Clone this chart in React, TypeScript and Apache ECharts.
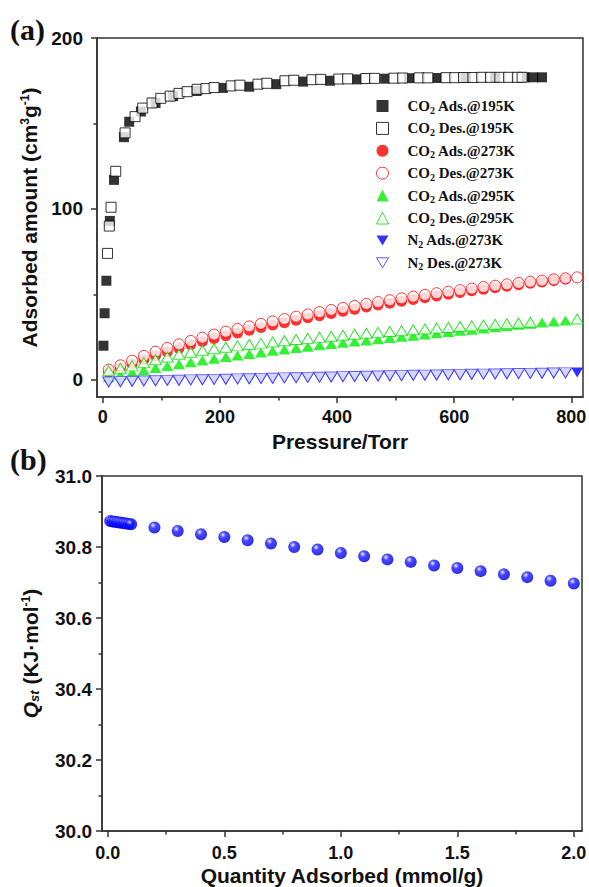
import React, { useEffect, useRef } from "react";
import * as echarts from "echarts";

const SANS = "'Liberation Sans', Arial, sans-serif";
const SERIF = "'Liberation Serif', 'Times New Roman', serif";

// ---------- Panel (a): isotherms ----------
const pAds195 = [1, 3, 6, 12, 19, 36, 45, 65, 90, 120, 160, 205, 250, 296, 342, 388, 434, 482, 523, 571, 620, 670, 720, 735, 750];
const ads195 = [20, 39, 58, 93, 117, 142, 151, 157, 162, 166, 169, 170.8, 171.5, 173, 174.5, 175, 175.8, 176.2, 176.5, 176.6, 176.8, 176.9, 177, 177, 177];

const pDes195 = [8, 11, 14, 22, 38, 55, 68, 84, 99, 115, 130, 144, 161, 176, 190, 219, 234, 265, 280, 311, 326, 357, 372, 403, 418, 449, 464, 497, 512, 540, 555, 586, 601, 616, 632, 647, 662, 678, 693, 708, 716];
const des195 = [74, 90, 101, 122, 144.5, 154, 159, 162, 164.7, 166, 167.6, 168.6, 170, 170.4, 171, 172, 172.4, 173, 173.5, 175, 175.3, 175.6, 175.8, 176, 176.1, 176.3, 176.4, 176.5, 176.6, 176.7, 176.7, 176.8, 176.8, 176.9, 176.9, 177, 177, 177, 177, 177, 177];

const pAds273 = [10, 30, 50, 70, 90, 110, 130, 150, 170, 190, 210, 230, 250, 270, 290, 310, 330, 350, 370, 390, 410, 430, 450, 470, 490, 510, 530, 550, 570, 590, 610, 630, 650, 670, 690, 710, 730, 750, 770, 790];
const ads273 = [4.5, 6.8, 9.3, 11.8, 14.2, 16.4, 18.5, 20.5, 22.4, 24.2, 25.9, 27.5, 29.1, 30.6, 32.1, 33.5, 34.9, 36.3, 37.6, 38.9, 40.2, 41.4, 42.6, 43.8, 44.9, 46, 47.1, 48.1, 49.1, 50.1, 51.1, 52.1, 53, 53.9, 54.8, 55.7, 56.5, 57.3, 58.1, 59];

const pDes273 = [10, 30, 50, 70, 90, 110, 130, 150, 170, 190, 210, 230, 250, 270, 290, 310, 330, 350, 370, 390, 410, 430, 450, 470, 490, 510, 530, 550, 570, 590, 610, 630, 650, 670, 690, 710, 730, 750, 770, 790, 810];
const des273 = [6, 8.5, 11.2, 14, 16.5, 18.7, 20.8, 22.8, 24.7, 26.5, 28.2, 29.8, 31.3, 32.8, 34.2, 35.6, 37, 38.3, 39.6, 40.9, 42.1, 43.3, 44.4, 45.5, 46.6, 47.7, 48.7, 49.7, 50.7, 51.6, 52.5, 53.4, 54.3, 55.1, 55.9, 56.7, 57.4, 58.1, 58.8, 59.4, 60];

const pAds295 = [10, 30, 50, 70, 90, 110, 130, 150, 170, 190, 210, 230, 250, 270, 290, 310, 330, 350, 370, 390, 410, 430, 450, 470, 490, 510, 530, 550, 570, 590, 610, 630, 650, 670, 690, 710, 730, 750, 770, 790];
const ads295 = [1.5, 3, 4.4, 5.7, 6.9, 8.1, 9.2, 10.3, 11.4, 12.4, 13.4, 14.3, 15.2, 16.1, 17, 17.8, 18.6, 19.4, 20.2, 21, 21.7, 22.4, 23.1, 23.8, 24.5, 25.2, 25.9, 26.6, 27.3, 28, 28.7, 29.4, 30.1, 30.8, 31.5, 32.2, 32.9, 33.6, 34.2, 34.8];

const pDes295 = [10, 30, 50, 70, 90, 110, 130, 150, 170, 190, 210, 230, 250, 270, 290, 310, 330, 350, 370, 390, 410, 430, 450, 470, 490, 510, 530, 550, 570, 590, 610, 630, 650, 670, 690, 710, 730, 810];
const des295 = [5.3, 6.6, 8.2, 10, 11.8, 13.4, 15, 16.2, 17.3, 18.2, 19.1, 19.9, 20.7, 21.5, 22.2, 22.9, 23.6, 24.3, 24.9, 25.5, 26.1, 26.7, 27.3, 27.8, 28.3, 28.8, 29.3, 29.8, 30.3, 30.7, 31.2, 31.6, 32.1, 32.5, 32.9, 33.3, 33.7, 35.6];

const pAdsN2 = [10, 30, 50, 70, 90, 110, 130, 150, 170, 190, 210, 230, 250, 270, 290, 310, 330, 350, 370, 390, 410, 430, 450, 470, 490, 510, 530, 550, 570, 590, 610, 630, 650, 670, 690, 710, 730, 750, 770, 790, 810];
const adsN2 = [-1.5, -1.5, -1.2, -1, -0.9, -0.7, -0.6, -0.4, -0.3, -0.1, 0, 0.2, 0.3, 0.5, 0.6, 0.8, 0.9, 1.1, 1.2, 1.3, 1.5, 1.6, 1.7, 1.9, 2, 2.1, 2.3, 2.4, 2.5, 2.6, 2.7, 2.9, 3, 3.1, 3.2, 3.3, 3.4, 3.5, 3.6, 3.7, 4.3];

const pDesN2 = [10, 30, 50, 70, 90, 110, 130, 150, 170, 190, 210, 230, 250, 270, 290, 310, 330, 350, 370, 390, 410, 430, 450, 470, 490, 510, 530, 550, 570, 590, 610, 630, 650, 670, 690, 710, 730, 750, 770, 790];
const desN2 = [-1.2, -1, -0.8, -0.6, -0.5, -0.3, -0.2, 0, 0.1, 0.3, 0.4, 0.6, 0.7, 0.9, 1, 1.2, 1.3, 1.5, 1.6, 1.7, 1.9, 2, 2.1, 2.3, 2.4, 2.5, 2.7, 2.8, 2.9, 3, 3.1, 3.3, 3.4, 3.5, 3.6, 3.7, 3.8, 3.9, 4, 4.1];

const xTicksA = [0, 200, 400, 600, 800];
const xMinorA = [100, 300, 500, 700];
const yTicksA = [0, 100, 200];
const yMinorA = [50, 150];

// ---------- Panel (b): Qst ----------
const qAdsorbed = [0.01, 0.02, 0.03, 0.04, 0.05, 0.06, 0.07, 0.08, 0.09, 0.1, 0.2, 0.3, 0.4, 0.5, 0.6, 0.7, 0.8, 0.9, 1.0, 1.1, 1.2, 1.3, 1.4, 1.5, 1.6, 1.7, 1.8, 1.9, 2.0];
const qst = [30.873, 30.872, 30.871, 30.87, 30.869, 30.868, 30.867, 30.866, 30.865, 30.864, 30.855, 30.845, 30.836, 30.828, 30.819, 30.81, 30.8, 30.793, 30.783, 30.774, 30.765, 30.758, 30.748, 30.741, 30.732, 30.723, 30.715, 30.705, 30.697];

const xTicksB = [0, 0.5, 1, 1.5, 2];
const xMinorB = [0.25, 0.75, 1.25, 1.75];
const yTicksB = [30, 30.2, 30.4, 30.6, 30.8, 31];
const yMinorB = [30.1, 30.3, 30.5, 30.7, 30.9];

const legendRich: Record<string, string> = {
  "CO2 Ads.@195K": "{f|CO}{s|2}{t| Ads.@195K}",
  "CO2 Des.@195K": "{f|CO}{s|2}{t| Des.@195K}",
  "CO2 Ads.@273K": "{f|CO}{s|2}{t| Ads.@273K}",
  "CO2 Des.@273K": "{f|CO}{s|2}{t| Des.@273K}",
  "CO2 Ads.@295K": "{f|CO}{s|2}{t| Ads.@295K}",
  "CO2 Des.@295K": "{f|CO}{s|2}{t| Des.@295K}",
  "N2 Ads.@273K": "{f|N}{s|2}{t| Ads.@273K}",
  "N2 Des.@273K": "{f|N}{s|2}{t| Des.@273K}",
};

const zip = (xs: number[], ys: number[]) => xs.map((x, i) => [x, ys[i]]);

const AX = "#333";
const lineStyle = { color: AX, width: 1.5 };
const DOWN_TRI = "path://M0,0L12,0L6,10Z";

function mainAxis(gridIndex: number, min: number, max: number, ticks: number[], extra: any) {
  return {
    type: "value",
    gridIndex,
    min,
    max,
    axisLine: { show: true, onZero: false, lineStyle },
    axisTick: { show: true, customValues: ticks, length: 6, lineStyle },
    splitLine: { show: false },
    ...extra,
  };
}

function minorAxis(gridIndex: number, min: number, max: number, ticks: number[], position: string) {
  return {
    type: "value",
    gridIndex,
    min,
    max,
    position,
    axisLine: { show: false, onZero: false },
    axisTick: { show: true, customValues: ticks, length: 3.5, lineStyle },
    axisLabel: { show: false },
    splitLine: { show: false },
  };
}

const nameStyle = {
  fontFamily: SANS,
  fontWeight: "bold",
  fontSize: 21,
  color: "#111",
};

const labelStyle = (ticks: number[], fmt: (v: number) => string, size: number, margin: number) => ({
  show: true,
  customValues: ticks,
  formatter: fmt,
  fontFamily: SANS,
  fontWeight: "bold",
  fontSize: size,
  color: "#111",
  margin,
});

const sphere = {
  type: "radial",
  x: 0.38,
  y: 0.32,
  r: 0.7,
  colorStops: [
    { offset: 0, color: "#ffffff" },
    { offset: 0.14, color: "#9090ff" },
    { offset: 0.36, color: "#1a1aff" },
    { offset: 0.85, color: "#0000ee" },
    { offset: 1, color: "#0000a8" },
  ],
};

export default function App() {
  const ref = useRef<HTMLDivElement>(null);

  useEffect(() => {
    if (!ref.current) return;
    const chart = echarts.init(ref.current, null, { renderer: "svg" });

    const legendData = Object.keys(legendRich).map((name) =>
      name.startsWith("N2") ? { name, icon: DOWN_TRI } : { name }
    );

    const option: any = {
      animation: false,
      backgroundColor: "#ffffff",
      grid: [
        { left: 97, right: 6, top: 38, bottom: 490, show: true, borderColor: AX, borderWidth: 1.5, containLabel: false, outerBoundsMode: "none" },
        { left: 102, right: 7, top: 476, bottom: 56, show: true, borderColor: AX, borderWidth: 1.5, containLabel: false, outerBoundsMode: "none" },
      ],
      xAxis: [
        mainAxis(0, -10, 820, xTicksA, {
          axisLabel: labelStyle(xTicksA, (v: number) => String(v), 18, 11),
          name: "Pressure/Torr",
          nameLocation: "middle",
          nameGap: 34,
          nameTextStyle: nameStyle,
          position: "bottom",
        }),
        minorAxis(0, -10, 820, xMinorA, "bottom"),
        mainAxis(1, -0.025, 2.035, xTicksB, {
          axisLabel: labelStyle(xTicksB, (v: number) => v.toFixed(1), 18, 13),
          name: "Quantity Adsorbed (mmol/g)",
          nameLocation: "middle",
          nameGap: 34,
          nameTextStyle: nameStyle,
          position: "bottom",
        }),
        minorAxis(1, -0.025, 2.035, xMinorB, "bottom"),
      ],
      yAxis: [
        mainAxis(0, -10, 200, yTicksA, {
          axisLabel: labelStyle(yTicksA, (v: number) => String(v), 19, 14),
          name: "{a|Adsorbed amount (cm}{p|3}{a|g}{p|-1}{a|)}",
          nameLocation: "middle",
          nameGap: 48,
          nameTextStyle: {
            ...nameStyle,
            rich: {
              a: { ...nameStyle, lineHeight: 24 },
              p: { fontFamily: SANS, fontWeight: "bold", fontSize: 12, color: "#111", lineHeight: 12, padding: [0, 0, 9, 0] },
            },
          },
          position: "left",
        }),
        minorAxis(0, -10, 200, yMinorA, "left"),
        mainAxis(1, 30, 31, yTicksB, {
          axisLabel: labelStyle(yTicksB, (v: number) => v.toFixed(1), 19, 10),
          name: "{q|Q}{st|st}{a| (KJ·mol}{p|-1}{a|)}",
          nameLocation: "middle",
          nameGap: 60,
          nameTextStyle: {
            ...nameStyle,
            rich: {
              q: { ...nameStyle, fontStyle: "italic", lineHeight: 24 },
              st: { fontFamily: SANS, fontWeight: "bold", fontStyle: "italic", fontSize: 13, color: "#111", lineHeight: 13, padding: [8, 0, 0, 0] },
              a: { ...nameStyle, lineHeight: 24 },
              p: { fontFamily: SANS, fontWeight: "bold", fontSize: 12, color: "#111", lineHeight: 12, padding: [0, 0, 9, 0] },
            },
          },
          position: "left",
        }),
        minorAxis(1, 30, 31, yMinorB, "left"),
      ],
      legend: {
        show: true,
        orient: "vertical",
        left: 371,
        top: 92,
        itemWidth: 12,
        itemHeight: 12,
        itemGap: 4.4,
        selectedMode: false,
        symbolKeepAspect: true,
        itemStyle: { borderWidth: 1 },
        data: legendData,
        formatter: (name: string) => legendRich[name] || name,
        textStyle: {
          rich: {
            f: { fontFamily: SERIF, fontWeight: "bold", fontSize: 15, color: "#111", lineHeight: 18, padding: [0, 0, 0, 14] },
            t: { fontFamily: SERIF, fontWeight: "bold", fontSize: 15, color: "#111", lineHeight: 18 },
            s: { fontFamily: SERIF, fontWeight: "bold", fontSize: 10, color: "#111", lineHeight: 10, padding: [8, 0, 0, 0] },
          },
        },
      },
      graphic: [
        { type: "text", left: 10, top: 14, style: { text: "(a)", fontFamily: SERIF, fontWeight: "bold", fontSize: 30, fill: "#111" } },
        { type: "text", left: 10, top: 444, style: { text: "(b)", fontFamily: SERIF, fontWeight: "bold", fontSize: 30, fill: "#111" } },
      ],
      series: [
        {
          name: "CO2 Ads.@195K", type: "scatter", xAxisIndex: 0, yAxisIndex: 0,
          symbol: "rect", symbolSize: 10, data: zip(pAds195, ads195),
          itemStyle: { color: "#000000" },
        },
        {
          name: "CO2 Des.@195K", type: "scatter", xAxisIndex: 0, yAxisIndex: 0,
          symbol: "rect", symbolSize: 10, data: zip(pDes195, des195),
          itemStyle: { color: "#ffffff", borderColor: "#000000", borderWidth: 1 },
        },
        {
          name: "CO2 Ads.@273K", type: "scatter", xAxisIndex: 0, yAxisIndex: 0,
          symbol: "circle", symbolSize: 11, data: zip(pAds273, ads273),
          itemStyle: { color: "#ff0000" },
        },
        {
          name: "CO2 Des.@273K", type: "scatter", xAxisIndex: 0, yAxisIndex: 0,
          symbol: "circle", symbolSize: 11, data: zip(pDes273, des273),
          itemStyle: { color: "#ffffff", borderColor: "#ff0000", borderWidth: 1 },
        },
        {
          name: "CO2 Ads.@295K", type: "scatter", xAxisIndex: 0, yAxisIndex: 0,
          symbol: "triangle", symbolSize: [12, 10], data: zip(pAds295, ads295),
          itemStyle: { color: "#00ee00" },
        },
        {
          name: "CO2 Des.@295K", type: "scatter", xAxisIndex: 0, yAxisIndex: 0,
          symbol: "triangle", symbolSize: [12, 10], data: zip(pDes295, des295),
          itemStyle: { color: "#ffffff", borderColor: "#00dd00", borderWidth: 1 },
        },
        {
          name: "N2 Ads.@273K", type: "scatter", xAxisIndex: 0, yAxisIndex: 0,
          symbol: "triangle", symbolRotate: 180, symbolSize: [12, 10], data: zip(pAdsN2, adsN2),
          itemStyle: { color: "#0000ff" },
        },
        {
          name: "N2 Des.@273K", type: "scatter", xAxisIndex: 0, yAxisIndex: 0,
          symbol: "triangle", symbolRotate: 180, symbolSize: [12, 10], data: zip(pDesN2, desN2),
          itemStyle: { color: "#ffffff", borderColor: "#3030ff", borderWidth: 1 },
        },
        {
          name: "Qst", type: "scatter", xAxisIndex: 2, yAxisIndex: 2,
          symbol: "circle", symbolSize: 12, data: zip(qAdsorbed, qst),
          itemStyle: { color: sphere },
        },
      ],
    };

    chart.setOption(option);
    return () => chart.dispose();
  }, []);

  return (
    <div
      ref={ref}
      style={{ position: "fixed", left: 0, top: 0, width: 589, height: 887, background: "#fff" }}
    />
  );
}
